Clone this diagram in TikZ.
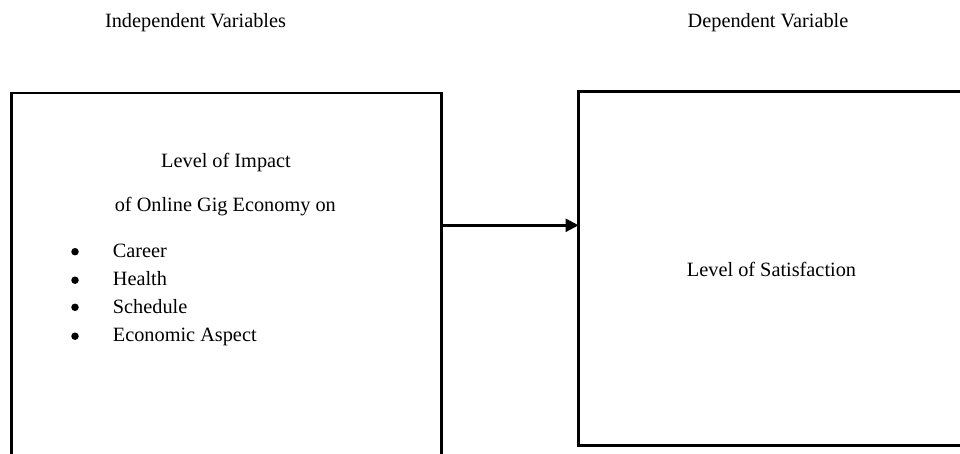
\documentclass[tikz,border=0pt]{standalone}
\usepackage{fontspec}
\setmainfont{Liberation Serif}
\usetikzlibrary{arrows.meta}
\begin{document}
\begin{tikzpicture}[x=1pt,y=-1pt,
  lbl/.style={anchor=base,inner sep=0pt,font=\fontsize{20.3}{24}\selectfont},
  itemtxt/.style={anchor=base west,inner sep=0pt,font=\fontsize{20.3}{24}\selectfont},
  bul/.style={circle,fill=black,inner sep=0pt,minimum size=7.5pt},
  varbox/.style={draw,line width=2.6pt,inner sep=0pt,outer sep=0pt,rectangle},
  link/.style={line width=2.4pt,-{Triangle[length=13pt,width=13pt]}}]
\useasboundingbox (0,0) rectangle (960,453);
\clip (0,0) rectangle (960,453);
\fill[white] (0,0) rectangle (960,453);
% headings
\node[lbl] (indep) at (195.5,27) {Independent Variables};
\node[lbl] (dep) at (768,27) {Dependent Variable};
% boxes
\node[varbox,minimum width=429.8pt,minimum height=377pt] (left) at (226.4,281.5) {};
\node[varbox,minimum width=396.4pt,minimum height=354.5pt] (right) at (776.8,268.45) {};
% left box text
\node[lbl] (t1) at (226,167.3) {Level of Impact};
\node[lbl] (t2) at (225.3,211) {of Online Gig Economy on};
\node[bul] (b1) at (75,251.7) {};
\node[itemtxt] (i1) at (112.7,257.7) {Career};
\node[bul] (b2) at (75,280.2) {};
\node[itemtxt] (i2) at (112.7,285.7) {Health};
\node[bul] (b3) at (75,307.3) {};
\node[itemtxt] (i3) at (112.7,313.3) {Schedule};
\node[bul] (b4) at (75,336.2) {};
\node[itemtxt] (i4) at (112.7,341.7) {Economic Aspect};
% right box text
\node[lbl] (s1) at (771.5,276.7) {Level of Satisfaction};
% connector
\coordinate (ay) at (0,225.3);
\draw[link] (left.east |- ay) -- (right.west |- ay);
\end{tikzpicture}
\end{document}
